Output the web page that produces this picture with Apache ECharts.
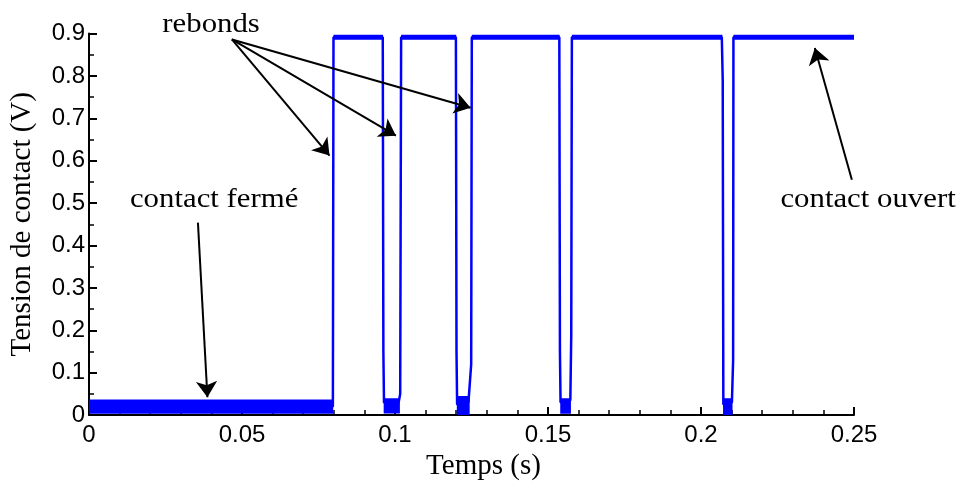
<!DOCTYPE html>
<html>
<head>
<meta charset="utf-8">
<script src="https://cdn.jsdelivr.net/npm/echarts@6/dist/echarts.min.js"></script>
<style>html,body{margin:0;padding:0;background:#fff}#c{width:963px;height:486px}</style>
</head>
<body>
<div id="c"></div>
<script>
// ---- data ----
const xTicks = [0, 0.05, 0.1, 0.15, 0.2, 0.25];
const yTicks = [0, 0.1, 0.2, 0.3, 0.4, 0.5, 0.6, 0.7, 0.8, 0.9];

// contact voltage trace (time s, voltage V)
const traceT = [0, 0.0797, 0.0799, 0.0960, 0.0962, 0.0964, 0.1012, 0.1017, 0.1020,
  0.1199, 0.1201, 0.1203, 0.1240, 0.1249, 0.1251,
  0.1537, 0.1539, 0.1541, 0.1573, 0.1576, 0.1578,
  0.2068, 0.2071, 0.2073, 0.2101, 0.2105, 0.2106, 0.25];
const traceV = [0.020, 0.020, 0.891, 0.891, 0.150, 0.030, 0.030, 0.050, 0.891,
  0.891, 0.150, 0.025, 0.030, 0.120, 0.891,
  0.891, 0.150, 0.030, 0.035, 0.190, 0.891,
  0.891, 0.790, 0.025, 0.030, 0.130, 0.891, 0.891];

// noise envelopes (start, end, low, high)
const bandStart = [0, 0.0963, 0.1202, 0.1540, 0.2072, 0.0799, 0.1020, 0.1251, 0.1578, 0.2106];
const bandEnd   = [0.0798, 0.1016, 0.1244, 0.1575, 0.2103, 0.0961, 0.1200, 0.1538, 0.2070, 0.2500];
const bandLow   = [0.003, 0.004, 0.000, 0.003, 0.000, 0.885, 0.885, 0.885, 0.885, 0.885];
const bandHigh  = [0.037, 0.040, 0.045, 0.040, 0.040, 0.897, 0.897, 0.897, 0.897, 0.897];

// annotation arrows (data coords)
const arrowFromT = [0.0467, 0.0467, 0.0467, 0.0356, 0.2493];
const arrowFromV = [0.886, 0.886, 0.886, 0.454, 0.555];
const arrowToT   = [0.0786, 0.1003, 0.1247, 0.0387, 0.2372];
const arrowToV   = [0.612, 0.659, 0.725, 0.042, 0.866];

// annotation labels (anchor in data coords)
const noteText = ['rebonds', 'contact fermé', 'contact ouvert'];
const noteT = [0.0399, 0.0409, 0.2546];
const noteV = [0.922, 0.509, 0.509];

const BLUE = '#0000ff';
const traceData = traceT.map((t, i) => [t, traceV[i]]);
const bandData = bandStart.map((s, i) => [s, bandEnd[i], bandLow[i], bandHigh[i]]);
const arrowData = arrowFromT.map((t, i) => [
  { coord: [t, arrowFromV[i]] },
  { coord: [arrowToT[i], arrowToV[i]] }
]);

const chart = echarts.init(document.getElementById('c'), null, { renderer: 'canvas' });
const axisCommon = {
  axisLine: { show: true, lineStyle: { color: '#000', width: 2 } },
  axisTick: { show: true, inside: true, length: 8, lineStyle: { color: '#000', width: 2 } },
  minorTick: { show: true, length: 5, lineStyle: { color: '#000', width: 1.5 } },
  splitLine: { show: false },
  axisLabel: { color: '#000', fontFamily: 'Liberation Sans, Arial, sans-serif', fontSize: 24 },
  nameTextStyle: { color: '#000', fontFamily: 'Liberation Serif, Times New Roman, serif', fontSize: 29 }
};
chart.setOption({
  animation: false,
  backgroundColor: '#fff',
  grid: { left: 89, right: 109, top: 33.5, bottom: 62.5, containLabel: false },
  xAxis: Object.assign({}, axisCommon, {
    type: 'value', min: xTicks[0], max: xTicks[xTicks.length - 1], interval: 0.05,
    minorTick: Object.assign({}, axisCommon.minorTick, { splitNumber: 5 }),
    axisLabel: Object.assign({}, axisCommon.axisLabel, { margin: 8, showMinLabel: true, showMaxLabel: true }),
    name: 'Temps (s)', nameLocation: 'middle', nameGap: 28,
    nameTextStyle: Object.assign({}, axisCommon.nameTextStyle, { padding: [0, 0, 0, 24] })
  }),
  yAxis: Object.assign({}, axisCommon, {
    type: 'value', min: yTicks[0], max: yTicks[yTicks.length - 1], interval: 0.1,
    minorTick: Object.assign({}, axisCommon.minorTick, { splitNumber: 2 }),
    axisLabel: Object.assign({}, axisCommon.axisLabel, { margin: 4 }),
    name: 'Tension de contact (V)', nameLocation: 'middle', nameGap: 52
  }),
  series: [
    {
      type: 'custom', silent: true, clip: true, z: 2,
      encode: { x: [0, 1], y: [2, 3] },
      data: bandData,
      renderItem: function (params, api) {
        const p0 = api.coord([api.value(0), api.value(3)]);
        const p1 = api.coord([api.value(1), api.value(2)]);
        return { type: 'rect', shape: { x: p0[0], y: p0[1], width: p1[0] - p0[0], height: p1[1] - p0[1] },
          style: { fill: BLUE } };
      }
    },
    {
      type: 'line', data: traceData, showSymbol: false, z: 3, clip: true,
      lineStyle: { color: BLUE, width: 2.5 },
      markLine: {
        silent: true, symbol: ['none', 'arrow'], symbolSize: 16, animation: false,
        label: { show: false },
        lineStyle: { color: '#000', width: 2, type: 'solid' },
        itemStyle: { color: '#000' },
        emphasis: { disabled: true },
        data: arrowData
      }
    }
  ]
});

const g = noteText.map((txt, i) => {
  const p = chart.convertToPixel({ gridIndex: 0 }, [noteT[i], noteV[i]]);
  return {
    type: 'text', x: p[0], y: p[1], scaleX: 1.1, silent: true,
    style: { text: txt, fill: '#000', font: '28px "Liberation Serif", "Times New Roman", serif',
      textAlign: 'center', textVerticalAlign: 'middle' }
  };
});
chart.setOption({ graphic: g });
</script>
</body>
</html>
